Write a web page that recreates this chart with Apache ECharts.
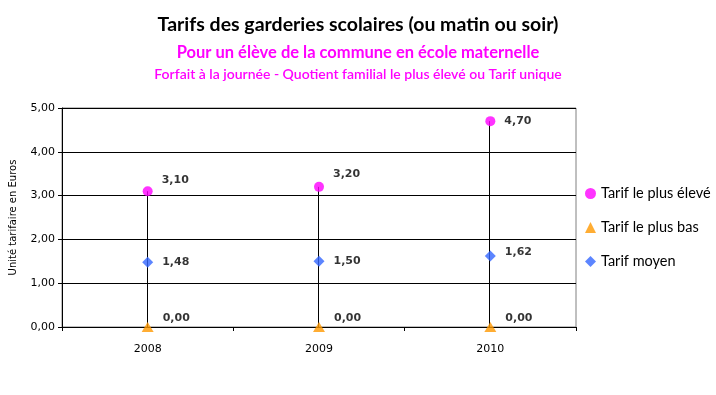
<!DOCTYPE html>
<html><head><meta charset="utf-8">
<script src="https://cdn.jsdelivr.net/npm/echarts@6/dist/echarts.min.js"></script>
<style>html,body{margin:0;padding:0;background:#fff}#c{width:716px;height:395px}</style>
</head><body><div id="c"></div>
<script>
const categories = ['2008', '2009', '2010'];
const tarifHaut = [3.10, 3.20, 4.70];
const tarifBas = [0.00, 0.00, 0.00];
const tarifMoyen = [1.48, 1.50, 1.62];
const seriesNames = ['Tarif le plus élevé', 'Tarif le plus bas', 'Tarif moyen'];
const yTicks = [0, 1, 2, 3, 4, 5];

const fmt = v => v.toFixed(2).replace('.', ',');
const highOffsets = [[4, -11], [4, -13], [4, 0]];
const meanOffsets = [[4, 0], [4, 0], [4, -4]];
const lowOffsets = [[4, -9], [4, -9], [4, -9]];

const lblBase = {show: true, position: 'right', fontFamily: 'DejaVu Sans', fontSize: 11, fontWeight: 'bold', color: '#000', formatter: p => fmt(p.value)};
function withOffsets(vals, offs) {
  return vals.map((v, i) => ({value: v, label: {offset: offs[i]}}));
}

const chart = echarts.init(document.getElementById('c'), null, {renderer: 'canvas'});
chart.setOption({
  animation: false,
  backgroundColor: '#fff',
  title: [
    {text: 'Tarifs des garderies scolaires (ou matin ou soir)', left: 'center', top: 10,
     textStyle: {fontFamily: 'Lato', fontWeight: 'bold', fontSize: 19.5, color: '#000'}},
    {text: 'Pour un élève de la commune en école maternelle', left: 'center', top: 39,
     textStyle: {fontFamily: 'Lato', fontWeight: 'bold', fontSize: 16.5, color: '#FF00FF'}},
    {text: 'Forfait à la journée - Quotient familial le plus élevé ou Tarif unique', left: 'center', top: 62,
     textStyle: {fontFamily: 'Lato', fontWeight: 600, fontSize: 14, color: '#FF00FF'}}
  ],
  legend: {
    orient: 'vertical', left: 580, top: 181, itemGap: 19, itemWidth: 11, itemHeight: 11,
    textStyle: {fontFamily: 'Lato', fontSize: 14.5, color: '#000'},
    data: [
      {name: seriesNames[0], icon: 'circle'},
      {name: seriesNames[1], icon: 'triangle'},
      {name: seriesNames[2], icon: 'diamond'}
    ]
  },
  grid: {left: 62, right: 140, top: 108, bottom: 68, show: true, borderColor: '#808080', borderWidth: 1},
  xAxis: {
    type: 'category', data: categories, boundaryGap: true,
    axisLine: {lineStyle: {color: '#000'}},
    axisTick: {show: true, length: 4, lineStyle: {color: '#000'}},
    axisLabel: {fontFamily: 'DejaVu Sans', fontSize: 11, color: '#000', margin: 17}
  },
  yAxis: {
    type: 'value', min: yTicks[0], max: yTicks[yTicks.length - 1], interval: 1,
    name: 'Unité tarifaire en Euros', nameLocation: 'middle', nameGap: 44, nameRotate: 90,
    nameTextStyle: {fontFamily: 'DejaVu Sans', fontSize: 10, color: '#000'},
    axisLine: {show: true, lineStyle: {color: '#000'}},
    axisTick: {show: true, length: 4, lineStyle: {color: '#000'}},
    axisLabel: {fontFamily: 'DejaVu Sans', fontSize: 11, color: '#000', margin: 7, formatter: v => fmt(v)},
    splitLine: {show: true, lineStyle: {color: '#000', width: 1}}
  },
  series: [
    {
      type: 'custom', name: 'drop', silent: true, z: 1,
      data: tarifHaut.map((v, i) => [i, v]),
      renderItem: (params, api) => {
        const top = api.coord([api.value(0), api.value(1)]);
        const bot = api.coord([api.value(0), 0]);
        const x = Math.round(top[0] - 1) + 0.5;
        return {type: 'line', shape: {x1: x, y1: top[1], x2: x, y2: bot[1]},
          style: {stroke: '#000', lineWidth: 1}};
      }
    },
    {type: 'scatter', name: seriesNames[0], symbol: 'circle', symbolSize: 10, z: 3,
     itemStyle: {color: '#FF00FF'}, label: lblBase, data: withOffsets(tarifHaut, highOffsets)},
    {type: 'scatter', name: seriesNames[1], symbol: 'triangle', symbolSize: [12, 10], z: 3,
     itemStyle: {color: '#FF9900'}, label: lblBase, data: withOffsets(tarifBas, lowOffsets)},
    {type: 'scatter', name: seriesNames[2], symbol: 'diamond', symbolSize: 11, z: 3,
     itemStyle: {color: '#3366FF'}, label: lblBase, data: withOffsets(tarifMoyen, meanOffsets)}
  ]
});
</script></body></html>
